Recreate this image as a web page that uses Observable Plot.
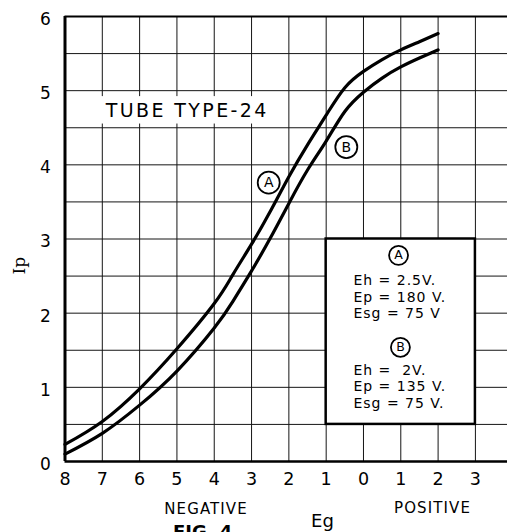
<!DOCTYPE html>
<html>
<head>
<meta charset="utf-8">
<script src="https://cdn.jsdelivr.net/npm/d3@7"></script>
<script src="https://cdn.jsdelivr.net/npm/@observablehq/plot@0.6"></script>
<style>
  html, body { margin: 0; padding: 0; background: #fff; }
  #chart svg { display: block; }
</style>
</head>
<body>
<div id="chart"></div>
<script>
// Grid voltage Eg (volts) and plate current Ip (mA)
const eg  = [-8, -7, -6, -5, -4, -3.5, -3, -2.5, -2, -1.5, -1, -0.5, 0, 0.5, 1, 1.5, 2];
const ipA = [0.23, 0.54, 0.98, 1.52, 2.13, 2.52, 2.93, 3.37, 3.84, 4.27, 4.67, 5.04, 5.26, 5.42, 5.55, 5.66, 5.77];
const ipB = [0.10, 0.38, 0.76, 1.22, 1.80, 2.16, 2.57, 3.01, 3.48, 3.93, 4.32, 4.72, 4.98, 5.17, 5.32, 5.44, 5.55];

const xTicks = [-8, -7, -6, -5, -4, -3, -2, -1, 0, 1, 2, 3];
const xTickLabels = ["8", "7", "6", "5", "4", "3", "2", "1", "0", "1", "2", "3"];
const yTicks = [0, 1, 2, 3, 4, 5, 6];
const yGrid = [0.5, 1, 1.5, 2, 2.5, 3, 3.5, 4, 4.5, 5, 5.5];
const xGrid = [-7, -6, -5, -4, -3, -2, -1, 0, 1, 2, 3];

const legendA = ["Eh = 2.5V.", "Ep = 180 V.", "Esg = 75 V"];
const legendB = ["Eh =  2V.", "Ep = 135 V.", "Esg = 75 V."];

const seriesA = eg.map((x, i) => ({eg: x, ip: ipA[i]}));
const seriesB = eg.map((x, i) => ({eg: x, ip: ipB[i]}));

const sans = "'DejaVu Sans', 'Liberation Sans', sans-serif";
const serif = "'DejaVu Serif', 'Liberation Serif', serif";

const chart = Plot.plot({
  width: 507,
  height: 532,
  marginLeft: 64.5,
  marginRight: 0,
  marginTop: 16,
  marginBottom: 71,
  x: {domain: [-8, 3.86], axis: null},
  y: {domain: [0, 6], axis: null},
  style: {fontFamily: sans, background: "white", color: "black", overflow: "hidden"},
  marks: [
    // grid
    Plot.ruleX(xGrid, {stroke: "#151515", strokeWidth: 1}),
    Plot.ruleY(yGrid, {stroke: "#151515", strokeWidth: 1}),
    // white patch behind the title
    Plot.rect([0], {x1: -7.04, x2: -2.3, y1: 4.55, y2: 4.92, fill: "white"}),
    // legend box
    Plot.rect([0], {x1: -1, x2: 3, y1: 0.5, y2: 3, fill: "white", stroke: "black", strokeWidth: 2.5}),
    // curves
    Plot.line(seriesA, {x: "eg", y: "ip", stroke: "black", strokeWidth: 3.2, curve: "natural"}),
    Plot.line(seriesB, {x: "eg", y: "ip", stroke: "black", strokeWidth: 3.2, curve: "natural"}),
    // frame
    Plot.ruleY([0], {stroke: "black", strokeWidth: 2.6}),
    Plot.ruleY([6], {stroke: "black", strokeWidth: 2.2}),
    Plot.ruleX([-8], {stroke: "black", strokeWidth: 3}),
    // tick labels
    Plot.text(yTicks, {x: -8, y: d => d, text: d => String(d), dx: -19.5, dy: 3, fontSize: 17}),
    Plot.text(xTicks, {x: d => d, y: 0, text: (d, i) => xTickLabels[i], dy: 17.5, fontSize: 17.5}),
    // axis titles
    Plot.text(["Ip"], {x: -8, y: 2.64, text: d => d, dx: -45, rotate: -90, fontSize: 17, fontFamily: serif}),
    Plot.text(["NEGATIVE"], {x: -4.22, y: 0, text: d => d, dy: 48, fontSize: 15}),
    Plot.text(["POSITIVE"], {x: 1.85, y: 0, text: d => d, dy: 46.5, fontSize: 15}),
    Plot.text(["Eg"], {x: -1.1, y: 0, text: d => d, dy: 60, fontSize: 18}),
    Plot.text(["FIG. 4"], {x: -4.31, y: 0, text: d => d, dy: 63.5, lineAnchor: "top", fontSize: 18, fontWeight: "bold"}),
    // title
    Plot.text(["TUBE TYPE-24"], {x: -6.91, y: 4.73, text: d => d, textAnchor: "start", fontSize: 19}),
    // curve labels
    Plot.dot([{x: -2.54, y: 3.76, t: "A"}, {x: -0.46, y: 4.24, t: "B"}], {x: "x", y: "y", r: 11, fill: "white", stroke: "black", strokeWidth: 1.8}),
    Plot.text([{x: -2.54, y: 3.76, t: "A"}, {x: -0.46, y: 4.24, t: "B"}], {x: "x", y: "y", text: "t", fontSize: 14}),
    // legend contents
    Plot.dot([{x: 0.94, y: 2.78}, {x: 0.99, y: 1.54}], {x: "x", y: "y", r: 9.5, fill: "white", stroke: "black", strokeWidth: 1.8}),
    Plot.text([{x: 0.94, y: 2.78, t: "A"}, {x: 0.99, y: 1.54, t: "B"}], {x: "x", y: "y", text: "t", fontSize: 12.5}),
    Plot.text([legendA.join("\n")], {x: -0.27, y: 2.225, text: d => d, textAnchor: "start", fontSize: 14, lineHeight: 1.17}),
    Plot.text([legendB.join("\n")], {x: -0.27, y: 1.015, text: d => d, textAnchor: "start", fontSize: 14, lineHeight: 1.17})
  ]
});

// letter spacing for the hand-lettered labels
chart.querySelectorAll("text").forEach(t => {
  const s = t.textContent;
  if (s === "TUBE TYPE-24") t.setAttribute("letter-spacing", "2.4");
  if (s === "NEGATIVE" || s === "POSITIVE") t.setAttribute("letter-spacing", "1.1");
  if (s.startsWith("Eh")) t.setAttribute("letter-spacing", "1");
});

document.getElementById("chart").appendChild(chart);
</script>
</body>
</html>
